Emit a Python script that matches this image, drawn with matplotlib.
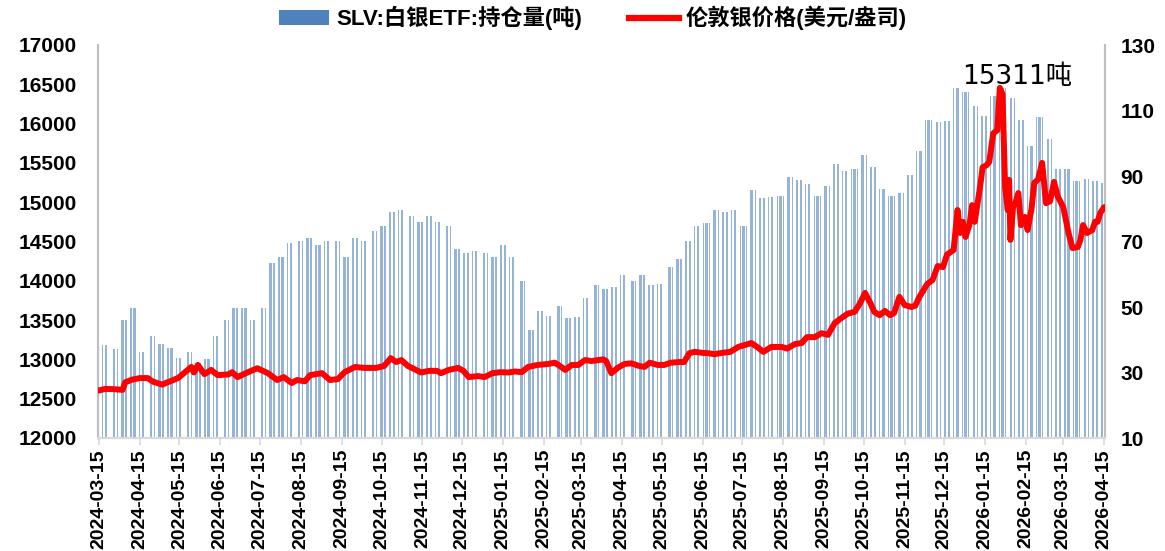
import matplotlib
matplotlib.use("Agg")
import matplotlib.pyplot as plt
import matplotlib.dates as mdates
from matplotlib.patches import Patch
from matplotlib.lines import Line2D
import numpy as np
import pandas as pd

plt.rcParams['font.family'] = ['Liberation Sans', 'Noto Sans CJK SC']

# ---------------- data ----------------
start_date = "2024-03-15"
end_date = "2026-04-15"
week_anchor = "2024-03-11"   # Monday of the first week

# SLV holdings (tons), one value per calendar week starting at week_anchor
holdings_weekly = [
    13270, 13180, 13130, 13500, 13650, 13100, 13300, 13200, 13150, 13020,
    13100, 12960, 13000, 13300, 13500, 13650, 13650, 13500, 13650, 14230,
    14300, 14480, 14500, 14540, 14450, 14500, 14500, 14300, 14550, 14500,
    14630, 14700, 14880, 14900, 14820, 14750, 14820, 14750, 14700, 14400,
    14350, 14380, 14350, 14300, 14450, 14300, 14000, 13370, 13620, 13550,
    13680, 13530, 13540, 13780, 13950, 13900, 13920, 14080, 14000, 14080,
    13950, 13960, 14180, 14280, 14500, 14700, 14730, 14900, 14880, 14900,
    14700, 15150, 15050, 15060, 15080, 15320, 15280, 15230, 15080, 15200,
    15480, 15400, 15420, 15600, 15450, 15170, 15080, 15120, 15350, 15650,
    16050, 16020, 16030, 16450, 16400, 16230, 16100, 16350, 16450, 16320,
    16050, 15720, 16080, 15800, 15420, 15420, 15270, 15290, 15270, 15250,
]

price_dates = [
    "2024-03-15", "2024-03-20", "2024-03-27", "2024-04-02", "2024-04-04", "2024-04-09",
    "2024-04-15", "2024-04-21", "2024-04-25", "2024-05-02", "2024-05-06", "2024-05-14",
    "2024-05-19", "2024-05-24", "2024-05-26", "2024-05-29", "2024-06-03", "2024-06-08",
    "2024-06-13", "2024-06-21", "2024-06-24", "2024-06-28", "2024-07-06", "2024-07-13",
    "2024-07-21", "2024-07-28", "2024-08-02", "2024-08-08", "2024-08-12", "2024-08-18",
    "2024-08-22", "2024-08-31", "2024-09-06", "2024-09-12", "2024-09-17", "2024-09-25",
    "2024-10-02", "2024-10-11", "2024-10-17", "2024-10-22", "2024-10-26", "2024-10-30",
    "2024-11-04", "2024-11-09", "2024-11-14", "2024-11-20", "2024-11-26", "2024-11-29",
    "2024-12-05", "2024-12-12", "2024-12-16", "2024-12-20", "2024-12-27", "2025-01-01",
    "2025-01-07", "2025-01-13", "2025-01-19", "2025-01-24", "2025-01-29", "2025-02-03",
    "2025-02-10", "2025-02-18", "2025-02-23", "2025-02-27", "2025-03-03", "2025-03-08",
    "2025-03-13", "2025-03-18", "2025-03-23", "2025-03-28", "2025-04-01", "2025-04-03",
    "2025-04-07", "2025-04-12", "2025-04-17", "2025-04-22", "2025-04-28", "2025-05-02",
    "2025-05-06", "2025-05-12", "2025-05-17", "2025-05-22", "2025-05-29", "2025-06-01",
    "2025-06-05", "2025-06-09", "2025-06-15", "2025-06-19", "2025-06-24", "2025-06-30",
    "2025-07-06", "2025-07-12", "2025-07-17", "2025-07-22", "2025-07-27", "2025-07-31",
    "2025-08-06", "2025-08-14", "2025-08-18", "2025-08-24", "2025-08-29", "2025-09-02",
    "2025-09-08", "2025-09-13", "2025-09-18", "2025-09-23", "2025-09-28", "2025-10-03",
    "2025-10-08", "2025-10-12", "2025-10-16", "2025-10-20", "2025-10-23", "2025-10-27",
    "2025-10-31", "2025-11-04", "2025-11-07", "2025-11-11", "2025-11-15", "2025-11-20",
    "2025-11-23", "2025-11-26", "2025-12-02", "2025-12-06", "2025-12-10", "2025-12-14",
    "2025-12-17", "2025-12-22", "2025-12-25", "2025-12-27", "2025-12-29", "2025-12-31",
    "2026-01-03", "2026-01-05", "2026-01-07", "2026-01-11", "2026-01-13", "2026-01-16",
    "2026-01-18", "2026-01-21", "2026-01-24", "2026-01-26", "2026-01-28", "2026-01-30",
    "2026-02-01", "2026-02-02", "2026-02-03", "2026-02-05", "2026-02-07", "2026-02-09",
    "2026-02-11", "2026-02-14", "2026-02-16", "2026-02-19", "2026-02-21", "2026-02-24",
    "2026-02-27", "2026-03-02", "2026-03-05", "2026-03-08", "2026-03-11", "2026-03-15",
    "2026-03-19", "2026-03-22", "2026-03-26", "2026-03-28", "2026-03-30", "2026-04-02",
    "2026-04-06", "2026-04-08", "2026-04-10", "2026-04-12", "2026-04-15",
]
price_values = [
    24.5, 25.0, 24.9, 24.7, 27.0, 27.8,
    28.3, 28.3, 27.2, 26.3, 27.0, 28.3,
    30.0, 31.7, 30.0, 32.3, 29.5, 30.8,
    29.2, 29.4, 30.1, 28.6, 30.1, 31.3,
    29.8, 27.7, 28.6, 26.8, 27.7, 27.3,
    29.2, 29.8, 27.7, 28.0, 30.1, 31.7,
    31.4, 31.4, 32.0, 34.4, 33.2, 33.8,
    32.0, 31.0, 30.0, 30.5, 30.5, 29.8,
    30.8, 31.4, 30.5, 28.6, 28.9, 28.6,
    29.8, 30.1, 30.0, 30.3, 30.1, 31.7,
    32.3, 32.6, 33.0, 32.0, 30.8, 32.3,
    32.3, 33.8, 33.5, 33.8, 34.0, 33.5,
    29.8, 31.5, 32.6, 32.8, 32.0, 31.7,
    33.0, 32.3, 32.3, 33.0, 33.2, 33.2,
    35.9, 36.3, 36.0, 35.9, 35.6, 36.0,
    36.3, 37.8, 38.4, 39.0, 37.6, 36.3,
    37.8, 37.8, 37.3, 38.7, 39.0, 40.8,
    40.8, 42.0, 41.5, 45.1, 46.6, 48.0,
    48.5, 51.0, 54.3, 51.2, 48.5, 47.5,
    48.8, 47.5, 48.2, 53.1, 50.6, 50.0,
    50.4, 53.0, 57.0, 58.2, 62.5, 62.2,
    66.0, 67.4, 79.6, 72.6, 76.0, 71.4,
    75.0, 81.1, 76.0, 86.6, 92.7, 93.3,
    94.3, 103.0, 104.0, 116.9, 115.0, 86.6,
    79.6, 88.8, 70.5, 80.5, 82.0, 84.8,
    75.0, 77.5, 73.5, 80.0, 87.8, 89.0,
    94.0, 81.7, 82.3, 88.2, 83.6, 80.5,
    72.6, 68.0, 68.3, 70.5, 75.0, 72.6,
    73.5, 76.0, 76.0, 78.7, 80.5,
]

left_ticks = [12000, 12500, 13000, 13500, 14000, 14500, 15000, 15500, 16000, 16500, 17000]
right_ticks = [10, 30, 50, 70, 90, 110, 130]
label_bar = "SLV:白银ETF:持仓量(吨)"
label_line = "伦敦银价格(美元/盎司)"
annot_text = "15311吨"

# ---------------- build series ----------------
bdays = pd.bdate_range(start_date, end_date)
week_idx = ((bdays - pd.Timestamp(week_anchor)).days // 7).to_numpy()
holdings_daily = np.array(holdings_weekly)[week_idx]
pdates = pd.to_datetime(price_dates)

# ---------------- figure ----------------
fig = plt.figure(figsize=(11.65, 5.51), dpi=100)
ax = fig.add_axes([98 / 1165, 1 - 438 / 551, (1105 - 98) / 1165, (438 - 45) / 551])
ax2 = ax.twinx()

bar_color = "#4F81BD"
ax.bar(bdays, holdings_daily - 12000, bottom=12000, width=0.6,
       color=bar_color, alpha=0.6, linewidth=0, zorder=1)
ax2.plot(pdates, price_values, color="#FF0000", lw=4.3, solid_joinstyle="round",
         solid_capstyle="round", zorder=3)

ax.set_ylim(12000, 17000)
ax.set_yticks(left_ticks)
ax2.set_ylim(10, 130)
ax2.set_yticks(right_ticks)
ax.set_xlim(pd.Timestamp(start_date) - pd.Timedelta(days=0.6),
            pd.Timestamp(end_date) + pd.Timedelta(days=0.6))

ax.xaxis.set_major_locator(mdates.MonthLocator(bymonthday=15))
ax.xaxis.set_major_formatter(mdates.DateFormatter("%Y-%m-%d"))

for a in (ax, ax2):
    a.spines["top"].set_visible(False)
    a.spines["left"].set_color("#BFBFBF")
    a.spines["right"].set_color("#BFBFBF")
    a.spines["bottom"].set_color("#D9D9D9")
    for s in ("left", "right", "bottom"):
        a.spines[s].set_linewidth(1.5)

ax.tick_params(axis="x", direction="out", length=5, width=1.2, color="#D9D9D9",
               pad=3, labelsize=14, rotation=90)
ax.tick_params(axis="y", length=0, pad=15, labelsize=15)
ax2.tick_params(axis="y", length=0, pad=11, labelsize=15)
for lab in ax.get_xticklabels() + ax.get_yticklabels() + ax2.get_yticklabels():
    lab.set_fontweight("bold")

ax.text(0.913, 0.919, annot_text, transform=ax.transAxes, ha="center", va="center",
        fontsize=19, family=["DejaVu Sans", "Noto Sans CJK SC"], zorder=5)

handles = [Patch(facecolor=bar_color, edgecolor="none"),
           Line2D([0], [0], color="#FF0000", lw=4.5)]
fig.legend(handles, [label_bar, label_line], loc="center",
           bbox_to_anchor=(0.509, 0.967), ncol=2, frameon=False,
           prop={"family": ["Liberation Sans", "Noto Sans CJK SC"], "weight": "bold", "size": 16},
           handlelength=2.25, handletextpad=0.3, columnspacing=2.1, handleheight=0.6)

fig.savefig("out.png", dpi=100)
